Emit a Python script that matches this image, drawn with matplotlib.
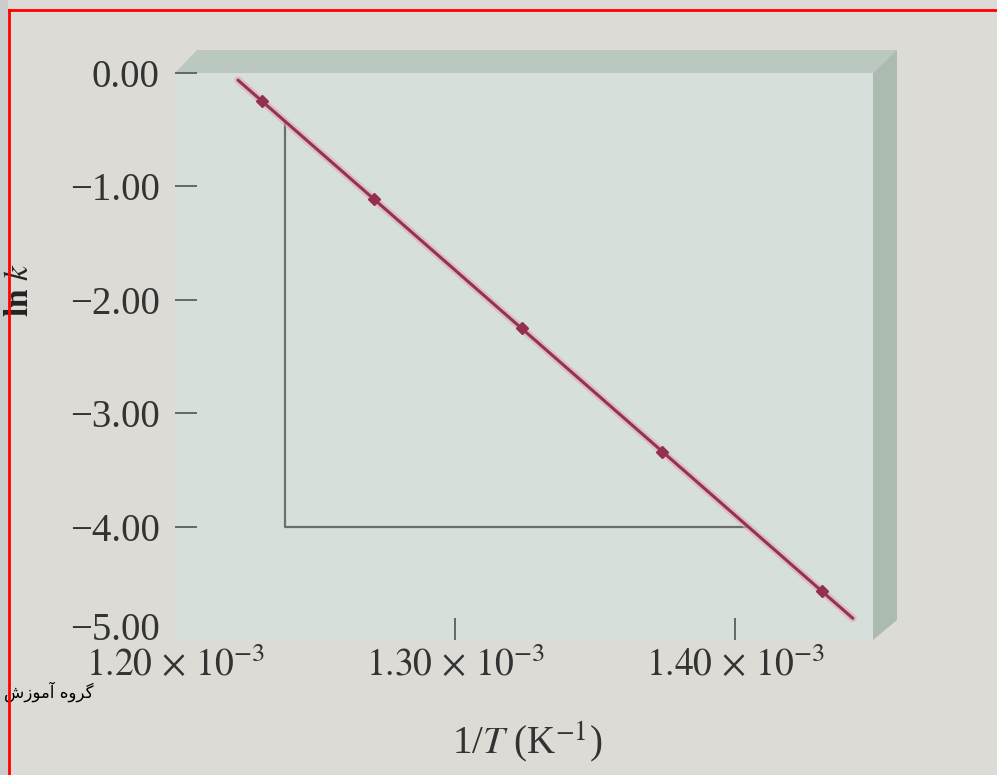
import matplotlib
matplotlib.use("Agg")
import matplotlib.pyplot as plt
from matplotlib.patches import Polygon, Rectangle
from matplotlib.lines import Line2D
from matplotlib.transforms import ScaledTranslation
import numpy as np

plt.rcParams['font.family'] = ['Liberation Serif', 'DejaVu Sans']
plt.rcParams['mathtext.fontset'] = 'stix'

# data
inv_T = [1.231e-3, 1.271e-3, 1.324e-3, 1.374e-3, 1.431e-3]
ln_k = [-0.25, -1.11, -2.25, -3.34, -4.57]

fit_range = [1.2225e-3, 1.4421e-3]   # extent of the drawn best-fit line
slope_x = 1.2393e-3                  # vertical leg of the slope triangle
slope_y = -4.00                      # horizontal leg of the slope triangle

x_ticks = [1.20e-3, 1.30e-3, 1.40e-3]
x_tick_labels = [r'$1.20\,\times\,10^{-3}$', r'$1.30\,\times\,10^{-3}$', r'$1.40\,\times\,10^{-3}$']
y_ticks = [0, -1, -2, -3, -4, -5]
y_tick_labels = ['0.00', '\u22121.00', '\u22122.00', '\u22123.00', '\u22124.00', '\u22125.00']

# "گروه آموزش" in presentation forms, visual order
watermark = '\uFEB5\uFEAF\uFEEE\uFEE3\uFE81 \uFEE9\uFEED\uFEAE\uFB94'

page = '#dcdbd5'
face = '#d7dfda'
txt = '#333333'

fig = plt.figure(figsize=(9.97, 7.75), dpi=100, facecolor=page)
ax = fig.add_axes([175/997, 1-640/775, 698/997, 567/775])
ax.set_facecolor(face)
ax.set_xlim(1.20e-3, 1.4493e-3)
ax.set_ylim(-5.0, 0.0)
for s in ax.spines.values():
    s.set_visible(False)

# 3D box edges
dx, dy = 24/698, 23/567
ax.add_patch(Polygon([(0, 1), (dx*0.92, 1+dy), (1+dx, 1+dy), (1, 1)], closed=True,
                     transform=ax.transAxes, clip_on=False, facecolor='#bac8c0', edgecolor='none'))
ax.add_patch(Polygon([(1, 1), (1+dx, 1+dy), (1+dx, 20/567), (1, 0)], closed=True,
                     transform=ax.transAxes, clip_on=False, facecolor='#abbbb0', edgecolor='none'))

# best-fit line
m, b = np.polyfit(inv_T, ln_k, 1)
fx = np.array(fit_range)
fy = m*fx + b
ax.plot(fx, fy, color='#e7a3b7', lw=5.5, alpha=0.6, solid_capstyle='round', zorder=3)
ax.plot(fx, fy, color='#8f3452', lw=2.2, solid_capstyle='round', zorder=4)
ax.plot(inv_T, ln_k, 'D', ms=6, color='#93304f', mec='#93304f', zorder=5)

# slope triangle
y_top = m*slope_x + b
x_end = (slope_y - b)/m
ax.plot([slope_x, slope_x, x_end], [y_top, slope_y, slope_y], color='#6b706d', lw=1.6, zorder=2)

ax.set_xticks(x_ticks, labels=x_tick_labels)
ax.set_yticks(y_ticks, labels=y_tick_labels)
ax.tick_params(axis='both', direction='in', length=16, width=1.4, color='#666666',
               labelsize=28, labelcolor=txt)
ax.tick_params(axis='x', labelsize=27, pad=5)
ax.tick_params(axis='y', pad=11)
ax.xaxis.get_major_ticks()[0].tick1line.set_visible(False)
ax.yaxis.get_major_ticks()[-1].tick1line.set_visible(False)
lab = ax.get_yticklabels()[-1]
lab.set_transform(lab.get_transform() + ScaledTranslation(0, 0.14, fig.dpi_scale_trans))

fig.text(527/997, 1-742/775, r'1/$T$ (K$^{-1}$)', ha='center', va='center', fontsize=28, color=txt)
fig.text(20/997, 1-290/775, r'ln $k$', ha='center', va='center', rotation=90, fontsize=24,
         color='#222222', fontweight='bold')

# scan border and watermark
fig.add_artist(Rectangle((0, 0), 8/997, 1, transform=fig.transFigure, facecolor='#cbcbcb',
                         edgecolor='none', zorder=1))
fig.text(93/997, 1-692/775, watermark, ha='right', va='center', fontsize=12, color='black',
         family=['DejaVu Sans'], zorder=5)
fig.add_artist(Line2D([9/997, 9/997], [0, 1-10/775], transform=fig.transFigure,
                      color='red', lw=2, zorder=10))
fig.add_artist(Line2D([9/997, 1], [1-10/775, 1-10/775], transform=fig.transFigure,
                      color='red', lw=2, zorder=10))

fig.savefig('out.png', dpi=100, facecolor=page)
